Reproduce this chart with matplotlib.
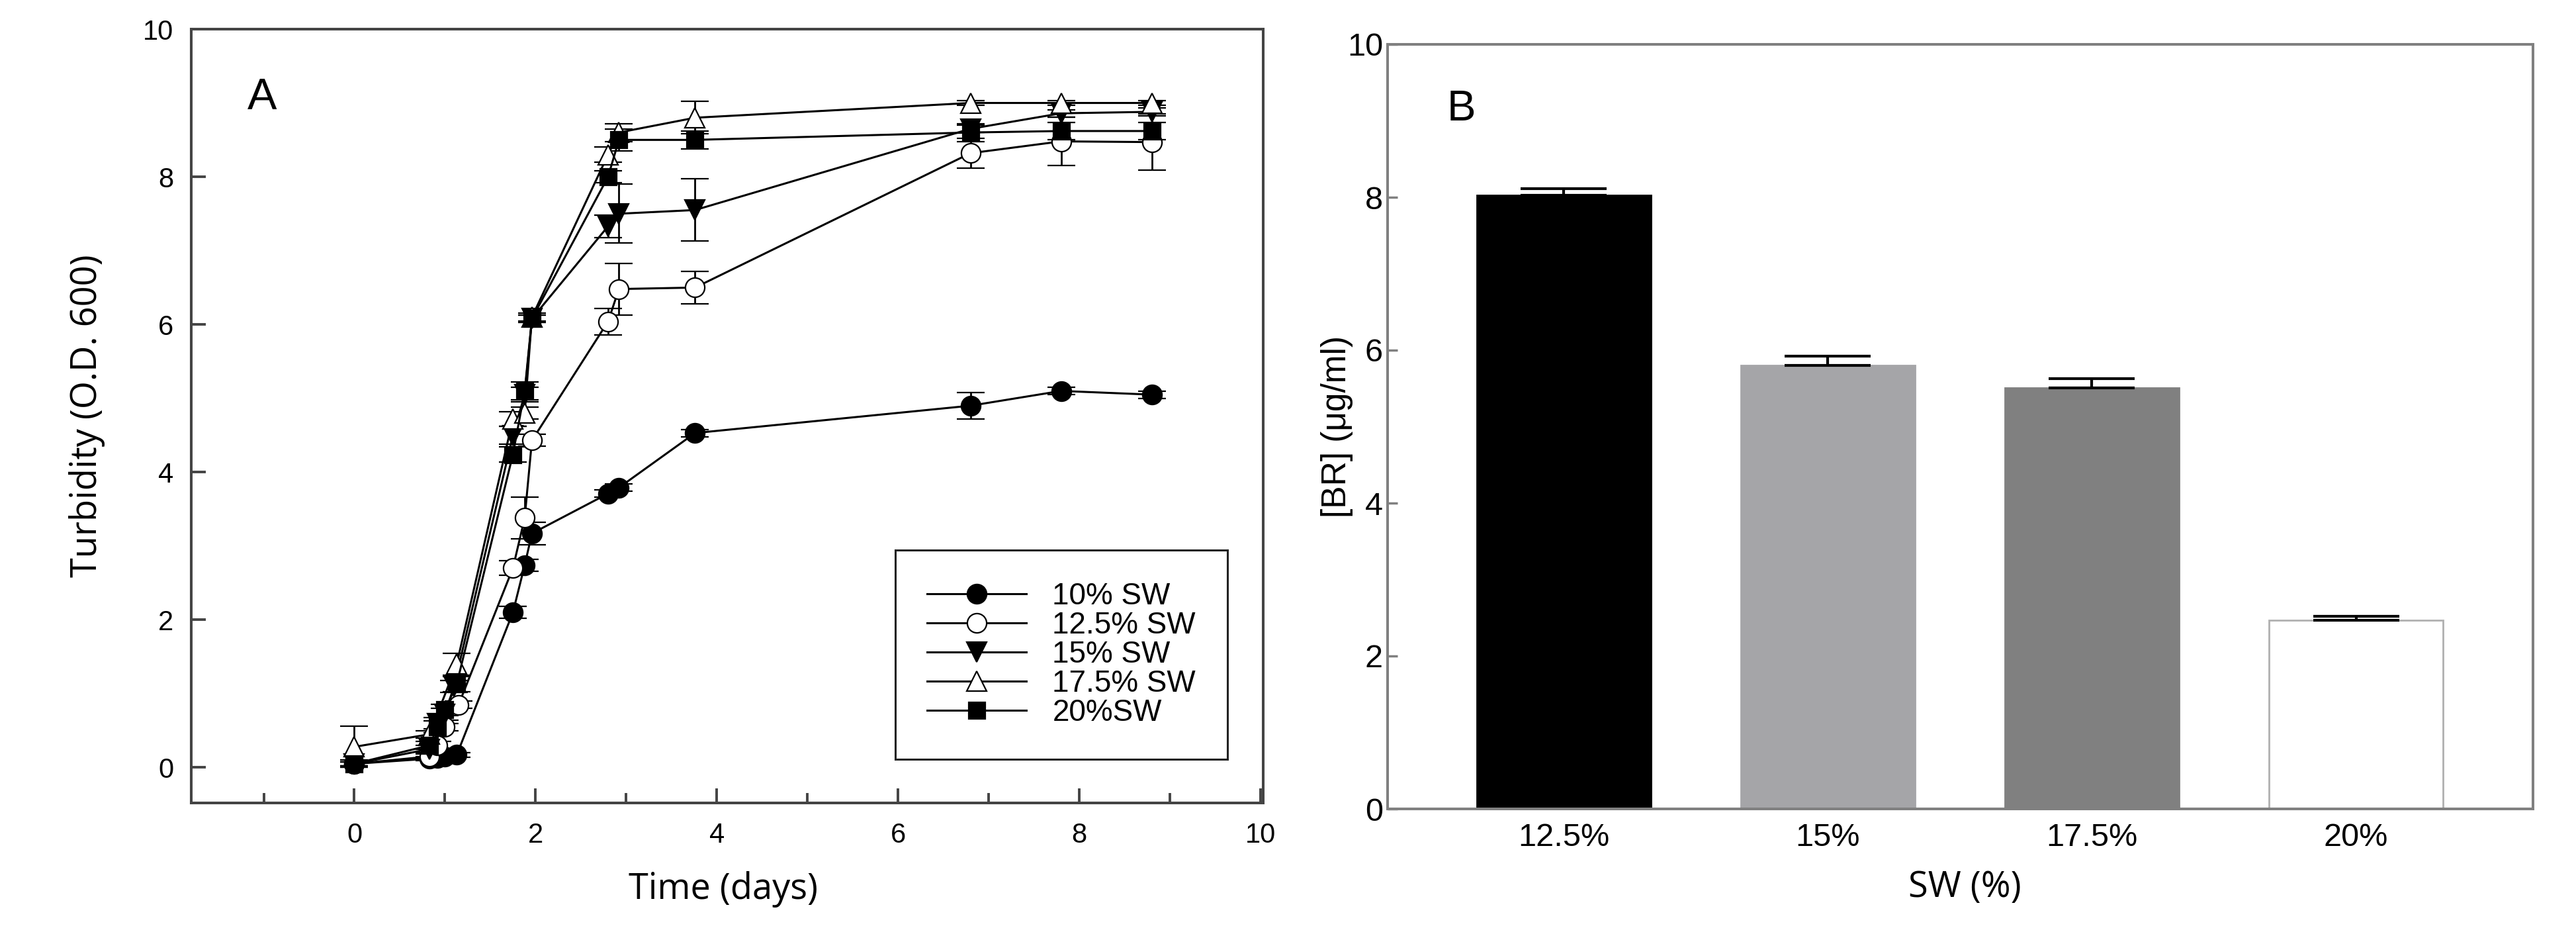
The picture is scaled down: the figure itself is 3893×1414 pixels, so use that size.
import matplotlib
matplotlib.use("Agg")
import matplotlib.pyplot as plt
from matplotlib.lines import Line2D
import numpy as np

plt.rcParams['font.family'] = ['Liberation Sans', 'DejaVu Sans']

# ---- panel A data: turbidity (O.D. 600) vs time (days) ----
t_10 = [0, 0.83, 0.92, 1.0, 1.13, 1.75, 1.88, 1.96, 2.8, 2.92, 3.76, 6.8, 7.8, 8.8]
od_10 = [0.05, 0.12, 0.13, 0.15, 0.17, 2.1, 2.74, 3.17, 3.71, 3.79, 4.53, 4.9, 5.1, 5.05]
err_10 = [0.03, 0.03, 0.03, 0.03, 0.03, 0.08, 0.08, 0.15, 0.05, 0.05, 0.05, 0.18, 0.05, 0.05]

t_125 = [0, 0.83, 0.92, 1.0, 1.15, 1.75, 1.88, 1.96, 2.8, 2.92, 3.76, 6.8, 7.8, 8.8]
od_125 = [0.05, 0.15, 0.3, 0.55, 0.85, 2.7, 3.38, 4.43, 6.04, 6.48, 6.5, 8.32, 8.48, 8.47]
err_125 = [0.03, 0.03, 0.05, 0.05, 0.05, 0.1, 0.28, 0.08, 0.18, 0.35, 0.22, 0.2, 0.33, 0.38]

t_15 = [0, 0.83, 0.92, 1.0, 1.1, 1.75, 1.88, 1.96, 2.8, 2.92, 3.76, 6.8, 7.8, 8.8]
od_15 = [0.05, 0.25, 0.6, 0.72, 1.1, 4.5, 5.05, 6.08, 7.33, 7.5, 7.55, 8.65, 8.86, 8.88]
err_15 = [0.03, 0.05, 0.08, 0.08, 0.08, 0.12, 0.1, 0.05, 0.15, 0.4, 0.42, 0.05, 0.05, 0.05]

t_175 = [0, 0.83, 1.13, 1.75, 1.88, 1.96, 2.8, 2.92, 3.76, 6.8, 7.8, 8.8]
od_175 = [0.28, 0.45, 1.4, 4.72, 4.8, 6.1, 8.3, 8.6, 8.8, 9.0, 9.0, 9.0]
err_175 = [0.28, 0.05, 0.15, 0.1, 0.08, 0.05, 0.1, 0.12, 0.22, 0.03, 0.03, 0.03]

t_20 = [0, 0.83, 0.92, 1.0, 1.13, 1.75, 1.88, 1.96, 2.8, 2.92, 3.76, 6.8, 7.8, 8.8]
od_20 = [0.05, 0.3, 0.55, 0.78, 1.13, 4.24, 5.1, 6.08, 8.0, 8.5, 8.5, 8.6, 8.62, 8.62]
err_20 = [0.05, 0.05, 0.08, 0.08, 0.1, 0.1, 0.12, 0.05, 0.08, 0.15, 0.12, 0.12, 0.12, 0.12]

labels_a = ['10% SW', '12.5% SW', '15% SW', '17.5% SW', '20%SW']

# ---- panel B data: [BR] per SW concentration ----
sw_labels = ['12.5%', '15%', '17.5%', '20%']
br_values = [8.03, 5.80, 5.51, 2.47]
br_err = [0.08, 0.12, 0.12, 0.05]

W, H = 3893, 1414
fig = plt.figure(figsize=(W / 100, H / 100), dpi=100)

# ---------------- panel A ----------------
axA = fig.add_axes([289 / W, 1 - 1213 / H, 1620 / W, 1169 / H])
series = [
    (t_10, od_10, err_10, 'o', 'black', 21),
    (t_125, od_125, err_125, 'o', 'white', 21),
    (t_15, od_15, err_15, 'v', 'black', 21),
    (t_175, od_175, err_175, '^', 'white', 21),
    (t_20, od_20, err_20, 's', 'black', 18),
]
handles = []
for (t, y, e, m, fc, ms), lab in zip(series, labels_a):
    axA.errorbar(t, y, yerr=e, fmt='-', color='black', lw=2.2, marker=m,
                 markersize=ms, markerfacecolor=fc, markeredgecolor='black',
                 markeredgewidth=1.6, ecolor='black', elinewidth=2.0,
                 capsize=15, capthick=2.0)
    handles.append(Line2D([], [], color='black', lw=2.2, marker=m, markersize=ms,
                          markerfacecolor=fc, markeredgecolor='black',
                          markeredgewidth=1.6))

axA.set_xlim(-1.8, 10.03)
axA.set_ylim(-0.48, 10)
axA.set_xticks([0, 2, 4, 6, 8, 10])
axA.set_xticks([-1, 1, 3, 5, 7, 9], minor=True)
axA.set_yticks([0, 2, 4, 6, 8, 10])
axA.tick_params(axis='both', which='major', direction='in', length=16, width=2.8,
                color='#444444', labelsize=30)
axA.tick_params(axis='x', which='major', pad=21)
axA.tick_params(axis='y', which='major', pad=19)
axA.tick_params(axis='x', which='minor', direction='in', length=11, width=2.8,
                color='#444444')
for sp in axA.spines.values():
    sp.set_color('#444444')
    sp.set_linewidth(2.9)

axA.set_xlabel('Time (days)', family=['Open Sans', 'DejaVu Sans'], fontsize=39)
axA.xaxis.set_label_coords(0.496, -0.088)
axA.set_ylabel('Turbidity (O.D. 600)', family=['Open Sans', 'DejaVu Sans'], fontsize=39)
axA.yaxis.set_label_coords(-0.08, 0.5)
axA.text(0.066, 0.8965, 'A', transform=axA.transAxes, fontsize=48,
         ha='center', va='baseline')

leg = axA.legend(handles, labels_a, loc='lower left', bbox_to_anchor=(0.657, 0.0565),
                 borderaxespad=0, fontsize=33, handlelength=3.27, handletextpad=0.85,
                 borderpad=1.05, labelspacing=0.0, fancybox=False, framealpha=1,
                 edgecolor='#222222')
leg.get_frame().set_linewidth(2.2)

# ---------------- panel B ----------------
axB = fig.add_axes([2097 / W, 1 - 1222 / H, 1731 / W, 1155 / H])
xpos = np.arange(len(sw_labels))
bar_colors = ['black', '#a5a5a8', '#808080', 'white']
bar_edges = ['black', '#a5a5a8', '#808080', '#b0b0b0']
axB.bar(xpos, br_values, width=0.66, color=bar_colors, edgecolor=bar_edges,
        linewidth=2, zorder=2)
axB.errorbar(xpos, br_values, yerr=[np.zeros(len(br_err)), br_err], fmt='none',
             ecolor='black', elinewidth=3, capsize=47, capthick=3, zorder=3)
axB.set_xlim(-0.667, 3.67)
axB.set_ylim(0, 10)
axB.set_xticks(xpos)
axB.set_xticklabels(sw_labels)
axB.set_yticks([0, 2, 4, 6, 8, 10])
axB.tick_params(axis='both', direction='in', length=11, width=2.5, color='#808080',
                labelsize=35)
axB.tick_params(axis='x', pad=15)
axB.tick_params(axis='y', pad=5)
for sp in axB.spines.values():
    sp.set_color('#808080')
    sp.set_linewidth(2.9)

axB.set_xlabel('SW (%)', family=['Open Sans', 'DejaVu Sans'], fontsize=39)
axB.xaxis.set_label_coords(0.504, -0.079)
axB.set_ylabel('[BR] (μg/ml)', fontsize=37)
axB.yaxis.set_label_coords(-0.030, 0.5)
axB.text(0.0641, 0.9004, 'B', transform=axB.transAxes, fontsize=47,
         ha='center', va='baseline')

fig.savefig('out.png', dpi=100)
